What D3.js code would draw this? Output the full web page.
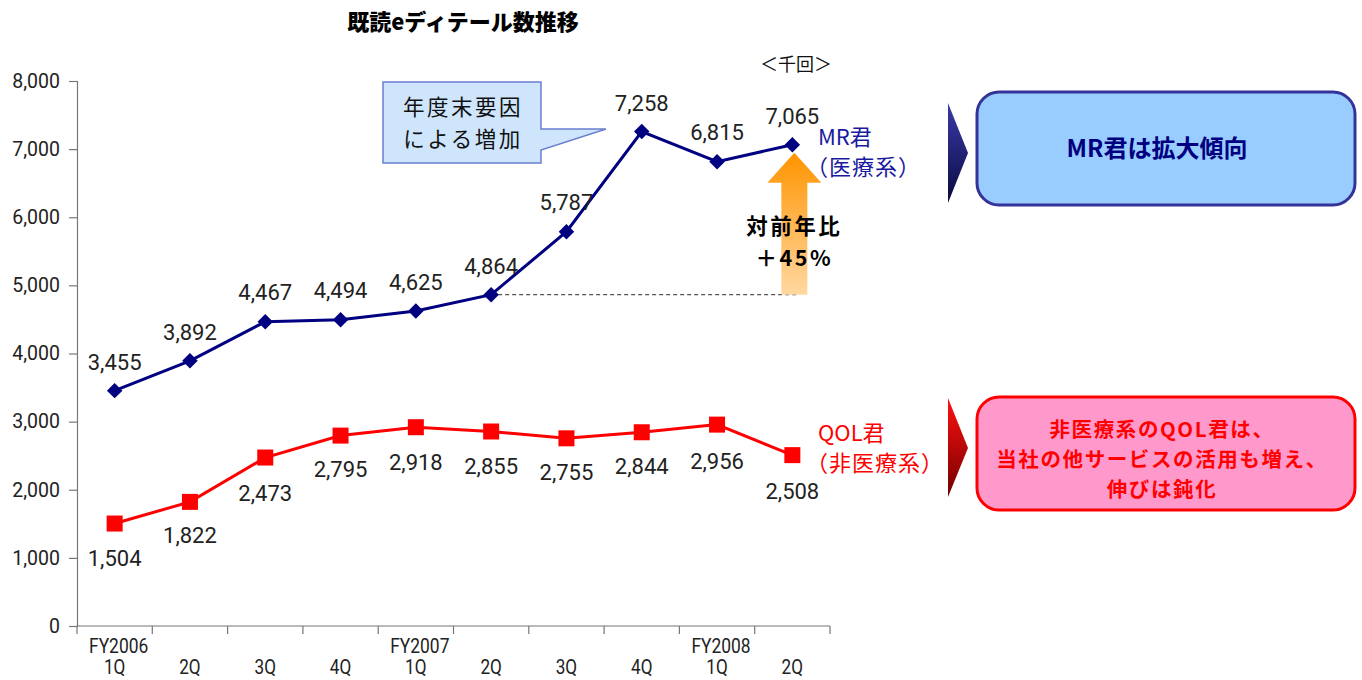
<!DOCTYPE html>
<html><head><meta charset="utf-8">
<script src="https://cdn.jsdelivr.net/npm/d3@7"></script>
<style>
body{margin:0;background:#fff;}
svg{font-family:Roboto,"Noto Sans CJK JP",sans-serif;}
</style></head>
<body><svg id="c" width="1362" height="680"></svg>
<script>
const quarters = ["1Q","2Q","3Q","4Q","1Q","2Q","3Q","4Q","1Q","2Q"];
const fiscalYears = ["FY2006","","","","FY2007","","","","FY2008",""];
const mrValues = [3455,3892,4467,4494,4625,4864,5787,7258,6815,7065];
const qolValues = [1504,1822,2473,2795,2918,2855,2755,2844,2956,2508];
const yTicks = [0,1000,2000,3000,4000,5000,6000,7000,8000];

const svg = d3.select("#c");
const idx = d3.range(quarters.length);
const x = d3.scaleBand().domain(idx).range([77,830]);
const y = d3.scaleLinear().domain([0,8000]).range([626,81]);
const cx = i => x(i) + x.bandwidth()/2;
const fmt = d3.format(",");
const jp = "'Noto Sans CJK JP',sans-serif";

function multiline(sel, lines, x0, y0, lh){
  sel.selectAll("tspan").data(lines).enter().append("tspan")
    .attr("x",x0).attr("y",(d,i)=>y0+i*lh).text(d=>d);
}

// defs
const defs = svg.append("defs");
const ga = defs.append("linearGradient").attr("id","arrowG").attr("x1",0).attr("y1",0).attr("x2",0).attr("y2",1);
ga.append("stop").attr("offset","0%").attr("stop-color","#ff9400");
ga.append("stop").attr("offset","100%").attr("stop-color","#ffd8a0");
const gb = defs.append("linearGradient").attr("id","triB").attr("x1",0).attr("y1",0).attr("x2",0).attr("y2",1);
gb.append("stop").attr("offset","0%").attr("stop-color","#3a3aa8");
gb.append("stop").attr("offset","100%").attr("stop-color","#0a0a40");
const gr = defs.append("linearGradient").attr("id","triR").attr("x1",0).attr("y1",0).attr("x2",0).attr("y2",1);
gr.append("stop").attr("offset","0%").attr("stop-color","#ff1010");
gr.append("stop").attr("offset","100%").attr("stop-color","#700000");

// title
svg.append("text").attr("x",463).attr("y",30).attr("text-anchor","middle")
  .attr("font-size",22).attr("font-weight","900").attr("fill","#000")
  .attr("font-family",jp).text("既読eディテール数推移");
svg.append("text").attr("x",796).attr("y",71).attr("text-anchor","middle")
  .attr("font-size",18).attr("fill","#111")
  .attr("font-family",jp).text("＜千回＞");

// y axis
const yAxis = svg.append("g").attr("transform","translate(77,0)")
  .call(d3.axisLeft(y).tickValues(yTicks).tickFormat(fmt).tickSize(8).tickPadding(9));
yAxis.select(".domain").attr("stroke","#777").attr("stroke-width",1.2);
yAxis.selectAll(".tick line").attr("stroke","#777").attr("stroke-width",1.2);
yAxis.selectAll(".tick text").attr("font-size",19.5).attr("fill","#222")
  .attr("font-family","Roboto,sans-serif");

// x axis
const edges = idx.map(i=>x(i)).concat([x(idx.length-1)+x.bandwidth()]);
svg.append("line").attr("x1",77).attr("x2",edges[edges.length-1]).attr("y1",y(0)).attr("y2",y(0))
  .attr("stroke","#777").attr("stroke-width",1.2);
svg.selectAll(".xt").data(edges).enter().append("line")
  .attr("x1",d=>d).attr("x2",d=>d).attr("y1",y(0)).attr("y2",y(0)+8)
  .attr("stroke","#777").attr("stroke-width",1.2);
svg.selectAll(".fy").data(idx.filter(i=>fiscalYears[i])).enter().append("text")
  .attr("x",i=>cx(i)+4).attr("y",653).attr("text-anchor","middle")
  .attr("font-size",20).attr("fill","#222").attr("font-family","Roboto,sans-serif")
  .attr("transform",i=>`translate(${cx(i)+4},0) scale(0.87,1) translate(${-(cx(i)+4)},0)`)
  .text(i=>fiscalYears[i]);
svg.selectAll(".q").data(idx).enter().append("text")
  .attr("x",i=>cx(i)).attr("y",674).attr("text-anchor","middle")
  .attr("font-size",19.5).attr("fill","#222").attr("font-family","Roboto,sans-serif")
  .attr("transform",i=>`translate(${cx(i)},0) scale(0.88,1) translate(${-cx(i)},0)`)
  .text(i=>quarters[i]);

// dashed reference line (from FY2007 2Q MR value)
const refI = 5;
svg.append("line").attr("x1",cx(refI)).attr("x2",cx(9)+6).attr("y1",y(mrValues[refI])).attr("y2",y(mrValues[refI]))
  .attr("stroke","#555").attr("stroke-width",1.2).attr("stroke-dasharray","4,3");

// growth arrow
const ax = cx(9) + 2;
const aTop = y(mrValues[9]) + 8, aBase = y(mrValues[refI]);
svg.append("path").attr("d",`M${ax-13},${aBase} L${ax-13},${aTop+30} L${ax-27},${aTop+30} L${ax},${aTop} L${ax+27},${aTop+30} L${ax+13},${aTop+30} L${ax+13},${aBase} Z`)
  .attr("fill","url(#arrowG)");
svg.append("text").attr("text-anchor","middle").attr("font-size",21.5).attr("letter-spacing",2.5)
  .attr("font-weight","bold").attr("fill","#000").attr("font-family",jp)
  .call(s=>multiline(s,["対前年比","＋45%"],ax,234,32));

// lines
const line = d3.line().x((d,i)=>cx(i)).y(d=>y(d));
svg.append("path").datum(mrValues).attr("d",line).attr("fill","none").attr("stroke","#000080").attr("stroke-width",3);
svg.append("path").datum(qolValues).attr("d",line).attr("fill","none").attr("stroke","#ff0000").attr("stroke-width",3);

// markers
svg.selectAll(".mr").data(mrValues).enter().append("path")
  .attr("d",d3.symbol().type(d3.symbolSquare).size(120))
  .attr("transform",(d,i)=>`translate(${cx(i)},${y(d)}) rotate(45)`).attr("fill","#000080");
svg.selectAll(".qol").data(qolValues).enter().append("rect")
  .attr("x",(d,i)=>cx(i)-8).attr("y",d=>y(d)-8).attr("width",16).attr("height",16).attr("fill","#ff0000");

// value labels
const mrOff = [-21,-21,-22,-22,-21,-21,-22,-21,-22,-21];
svg.selectAll(".mrl").data(mrValues).enter().append("text")
  .attr("x",(d,i)=>cx(i)).attr("y",(d,i)=>y(d)+mrOff[i]).attr("text-anchor","middle")
  .attr("font-size",22).attr("fill","#222").text(d=>fmt(d));
const qolOff = [42,41,43,41,43,42,42,42,44,44];
svg.selectAll(".qoll").data(qolValues).enter().append("text")
  .attr("x",(d,i)=>cx(i)).attr("y",(d,i)=>y(d)+qolOff[i]).attr("text-anchor","middle")
  .attr("font-size",22).attr("fill","#222").text(d=>fmt(d));

// series labels
svg.append("text").attr("font-size",22).attr("fill","#1a1aa0").attr("font-family",jp)
  .call(s=>{s.append("tspan").attr("x",818).attr("y",145).text("MR君");
            s.append("tspan").attr("x",806).attr("y",175).attr("letter-spacing",1).text("（医療系）");});
svg.append("text").attr("font-size",22).attr("fill","#ff0000").attr("font-family",jp)
  .call(s=>{s.append("tspan").attr("x",818).attr("y",441).text("QOL君");
            s.append("tspan").attr("x",806).attr("y",471).attr("letter-spacing",1).text("（非医療系）");});

// callout
svg.append("path").attr("d","M383,82 L541,82 L541,129 L606,129 L541,150 L541,163 L383,163 Z")
  .attr("fill","#cfe5fb").attr("stroke","#6a7fd0").attr("stroke-width",1.5);
svg.append("text").attr("text-anchor","middle").attr("font-size",21.5).attr("letter-spacing",2.5)
  .attr("fill","#111").attr("font-family",jp)
  .call(s=>multiline(s,["年度末要因","による増加"],463,115,32));

// right triangles
svg.append("path").attr("d","M948,103 L968,153 L948,203 Z").attr("fill","url(#triB)");
svg.append("path").attr("d","M948,398 L968,448 L948,497 Z").attr("fill","url(#triR)");

// right boxes
svg.append("rect").attr("x",977).attr("y",92).attr("width",378).attr("height",113).attr("rx",22)
  .attr("fill","#99ccff").attr("stroke","#333399").attr("stroke-width",3);
svg.append("text").attr("x",1157).attr("y",157).attr("text-anchor","middle").attr("font-size",24)
  .attr("font-weight","bold").attr("fill","#000080").attr("font-family",jp).text("MR君は拡大傾向");
svg.append("rect").attr("x",977).attr("y",397).attr("width",378).attr("height",113).attr("rx",22)
  .attr("fill","#ff99cc").attr("stroke","#ff0000").attr("stroke-width",3);
const pinkLines = ["非医療系のQOL君は、","当社の他サービスの活用も増え、","伸びは鈍化"];
svg.append("text").attr("text-anchor","middle").attr("font-size",20.5).attr("letter-spacing",1.6)
  .attr("font-weight","bold").attr("fill","#ff0000").attr("font-family",jp)
  .call(s=>multiline(s,pinkLines,1162,437,30));
</script></body></html>
